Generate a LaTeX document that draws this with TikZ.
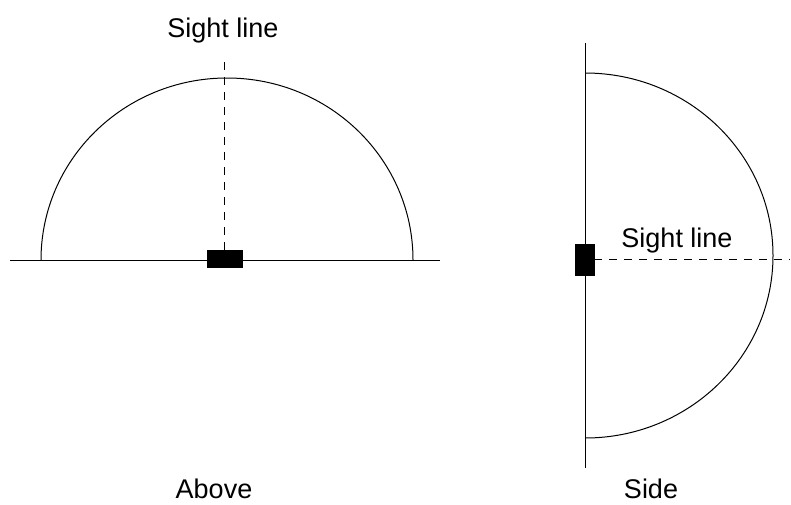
\documentclass[tikz,border=0pt]{standalone}
\usepackage{fontspec}
\setmainfont{Liberation Sans}
\usetikzlibrary{positioning}

\begin{document}
\begin{tikzpicture}[x=1pt,y=-1pt,
    wall/.style={line width=1pt},
    dome/.style={line width=1pt},
    sensor/.style={draw, fill=black, inner sep=0pt, line width=0.6pt},
    sight/.style={line width=1pt, dash pattern=on 8pt off 7pt},
    lbl/.style={font=\fontsize{27}{32}\selectfont, inner sep=0pt, anchor=base}
]
    \useasboundingbox (0,0) rectangle (791,504);

    % view from above
    \draw[wall] (10,260) -- (440,260);
    \draw[dome] (41,260) arc[start angle=180, end angle=0, x radius=186pt, y radius=182pt];
    \node[sensor, minimum width=35pt, minimum height=17pt] (abox) at (224.5,258.5) {};
    \coordinate (atop) at (224.5,55);
    \draw[sight] (abox.north) -- (atop);
    \node[lbl] (asight) at (223,37) {Sight line};
    \node[lbl] (above) at (214,498) {Above};

    % view from the side
    \draw[wall] (585,43) -- (585,468);
    \draw[dome] (585,73) arc[start angle=90, end angle=-90, x radius=188pt, y radius=182.5pt];
    \node[sensor, minimum width=19pt, minimum height=31pt] (sbox) at (584.5,259.5) {};
    \coordinate (send) at (790,259.5);
    \draw[sight] (sbox.east) -- (send);
    \node[lbl] (ssight) at (677,247) {Sight line};
    \node[lbl] (side) at (651,498) {Side};
\end{tikzpicture}
\end{document}
